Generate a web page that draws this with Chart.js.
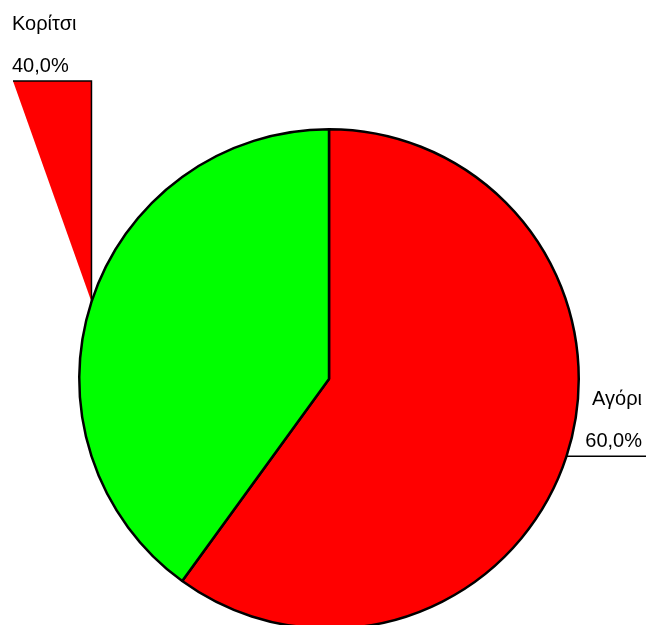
<!DOCTYPE html>
<html>
<head>
<meta charset="utf-8">
<script src="https://cdn.jsdelivr.net/npm/chart.js@4"></script>
<style>
  html,body{margin:0;padding:0;background:#fff;overflow:hidden;}
  #wrap{width:646px;height:625px;overflow:hidden;}
  canvas{display:block;}
</style>
</head>
<body>
<div id="wrap"><canvas id="pie" width="646" height="660"></canvas></div>
<script>
// Pie data
const labels = ['Αγόρι', 'Κορίτσι'];
const values = [60, 40];
const colors = ['#ff0000', '#00ff00'];

const fmtPct = (v, total)=> (v/total*100).toFixed(1).replace('.', ',') + '%';

// Callout labels: a leader line from each slice's outer mid point with name + percent above it
const calloutLabels = {
  id: 'calloutLabels',
  afterDatasetsDraw(chart, args, opts){
    const ctx = chart.ctx;
    const meta = chart.getDatasetMeta(0);
    const total = values.reduce((a,b)=>a+b, 0);
    ctx.save();
    ctx.font = opts.font;
    ctx.fillStyle = '#000';
    ctx.textBaseline = 'alphabetic';
    meta.data.forEach((arc, i)=>{
      const p = arc.getProps(['x','y','startAngle','endAngle','outerRadius'], true);
      const mid = (p.startAngle + p.endAngle)/2;
      const ax = p.x + Math.cos(mid)*p.outerRadius;
      const ay = p.y + Math.sin(mid)*p.outerRadius;
      let lineY, textX;
      if(Math.cos(mid) >= 0){
        // right side: straight horizontal leader
        lineY = ay;
        ctx.strokeStyle = '#000';
        ctx.lineWidth = 1.5;
        ctx.beginPath();
        ctx.moveTo(ax, ay);
        ctx.lineTo(chart.width, ay);
        ctx.stroke();
        ctx.textAlign = 'right';
        textX = opts.rightX;
      } else {
        // left side: elbow leader, drawn filled like the old export
        lineY = opts.topY;
        ctx.fillStyle = colors[0];
        ctx.beginPath();
        ctx.moveTo(ax, ay);
        ctx.lineTo(ax, lineY);
        ctx.lineTo(opts.leftX, lineY);
        ctx.closePath();
        ctx.fill();
        ctx.strokeStyle = '#000';
        ctx.lineWidth = 1.5;
        ctx.beginPath();
        ctx.moveTo(ax, ay);
        ctx.lineTo(ax, lineY);
        ctx.lineTo(opts.leftX, lineY);
        ctx.stroke();
        ctx.fillStyle = '#000';
        ctx.textAlign = 'left';
        textX = opts.leftX - 1;
      }
      ctx.fillText(labels[i], textX, lineY - 51);
      ctx.fillText(fmtPct(values[i], total), textX, lineY - 9);
    });
    ctx.restore();
  }
};

new Chart(document.getElementById('pie'), {
  type: 'pie',
  data: {
    labels,
    datasets: [{
      data: values,
      backgroundColor: colors,
      borderColor: '#000',
      borderWidth: 2.5
    }]
  },
  options: {
    responsive: false,
    animation: false,
    layout: { padding: { left: 78, right: 66, top: 127, bottom: 29 } },
    plugins: {
      legend: { display: false },
      tooltip: { enabled: false },
      calloutLabels: { font: '20px "Liberation Sans", Arial, sans-serif', rightX: 642, leftX: 13, topY: 81 }
    }
  },
  plugins: [calloutLabels]
});
</script>
</body>
</html>
